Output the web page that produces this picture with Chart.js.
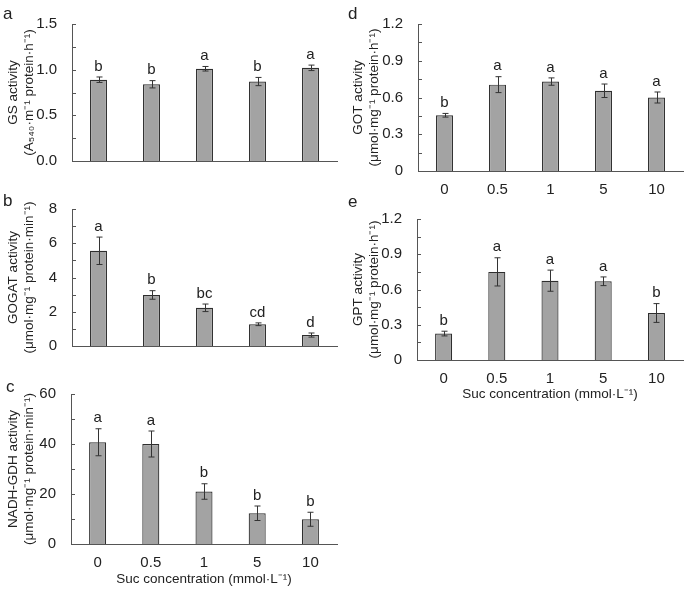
<!DOCTYPE html>
<html lang="en">
<head>
  <meta charset="UTF-8" />
  <title>Suc concentration - enzyme activities</title>
  <script src="https://cdn.jsdelivr.net/npm/chart.js"></script>
  <style>
    body {
      margin: 0;
      background: #ffffff;
      font-family: 'Liberation Sans', Arial, sans-serif;
    }
    .wrap {
      position: relative;
      width: 685px;
      height: 590px;
    }
    .panel {
      position: absolute;
    }
    .tag {
      position: absolute;
      font-size: 17px;
      color: #222;
      line-height: 1;
    }
  </style>
</head>
<body>
  <div class="wrap">
    <div class="panel" style="left:0;top:0;width:345px;height:185px"><canvas id="cA"></canvas></div>
    <div class="panel" style="left:0;top:185px;width:345px;height:185px"><canvas id="cB"></canvas></div>
    <div class="panel" style="left:0;top:370px;width:345px;height:220px"><canvas id="cC"></canvas></div>
    <div class="panel" style="left:345px;top:195px;width:340px;height:210px"><canvas id="cE"></canvas></div>
    <div class="panel" style="left:345px;top:0;width:340px;height:200px"><canvas id="cD"></canvas></div>
    <div class="tag" style="left:3px;top:5px">a</div>
    <div class="tag" style="left:3px;top:192px">b</div>
    <div class="tag" style="left:6px;top:378px">c</div>
    <div class="tag" style="left:348px;top:5px">d</div>
    <div class="tag" style="left:348px;top:193px">e</div>
  </div>

  <script>
    // Suc concentration (mmol/L)
    const sucLevels = ['0', '0.5', '1', '5', '10'];

    // a - GS
    const gsVals = [0.89, 0.84, 1.01, 0.87, 1.02];
    const gsErr  = [0.03, 0.04, 0.025, 0.045, 0.03];
    const gsSig  = ['b', 'b', 'a', 'b', 'a'];

    // b - GOGAT
    const gogatVals = [5.56, 2.98, 2.23, 1.27, 0.64];
    const gogatErr  = [0.8, 0.25, 0.22, 0.08, 0.12];
    const gogatSig  = ['a', 'b', 'bc', 'cd', 'd'];

    // c - NADH-GDH
    const gdhVals = [40.7, 40.0, 21.0, 12.3, 9.9];
    const gdhErr  = [5.4, 5.2, 3.1, 2.9, 2.8];
    const gdhSig  = ['a', 'a', 'b', 'b', 'b'];

    // d - GOT
    const gotVals = [0.455, 0.705, 0.73, 0.655, 0.60];
    const gotErr  = [0.015, 0.065, 0.03, 0.055, 0.045];
    const gotSig  = ['b', 'a', 'a', 'a', 'a'];

    // e - GPT
    const gptVals = [0.225, 0.75, 0.675, 0.67, 0.40];
    const gptErr  = [0.02, 0.12, 0.09, 0.037, 0.08];
    const gptSig  = ['b', 'a', 'a', 'a', 'b'];

    const FONT = "'Liberation Sans', Arial, sans-serif";
    const INK = '#222';
    const AXIS = '#555';

    // error bars, letters and inward y tick marks
    const extras = {
      id: 'extras',
      afterDatasetsDraw(chart) {
        const { ctx } = chart;
        const o = chart.options.plugins.extras;
        const ys = chart.scales.y;
        const vals = chart.data.datasets[0].data;
        ctx.save();
        // inward tick marks
        ctx.strokeStyle = AXIS;
        ctx.lineWidth = 1;
        ys.ticks.forEach(t => {
          const y = Math.round(ys.getPixelForValue(t.value)) + 0.5;
          ctx.beginPath();
          ctx.moveTo(ys.right, y);
          ctx.lineTo(ys.right + 4, y);
          ctx.stroke();
        });
        // error bars
        ctx.strokeStyle = '#333';
        ctx.fillStyle = INK;
        ctx.font = '15px ' + FONT;
        ctx.textAlign = 'center';
        ctx.textBaseline = 'bottom';
        chart.getDatasetMeta(0).data.forEach((bar, i) => {
          const x = Math.round(bar.x) + 0.5;
          const yt = ys.getPixelForValue(vals[i] + o.errors[i]);
          const yb = ys.getPixelForValue(vals[i] - o.errors[i]);
          ctx.beginPath();
          ctx.moveTo(x, yt); ctx.lineTo(x, yb);
          ctx.moveTo(x - 3, yt); ctx.lineTo(x + 3, yt);
          ctx.moveTo(x - 3, yb); ctx.lineTo(x + 3, yb);
          ctx.stroke();
          ctx.fillText(o.letters[i], bar.x, yt - 3);
        });
        ctx.restore();
      }
    };

    function makeChart(id, cfg) {
      return new Chart(document.getElementById(id), {
        type: 'bar',
        data: {
          labels: sucLevels,
          datasets: [{
            data: cfg.values,
            backgroundColor: '#a3a3a3',
            borderColor: '#2e2e2e',
            borderWidth: { top: 1.2, left: 1.2, right: 1.2, bottom: 0 },
            borderSkipped: false,
            barPercentage: 0.32,
            categoryPercentage: 1
          }]
        },
        options: {
          responsive: true,
          maintainAspectRatio: false,
          animation: false,
          layout: { padding: { top: cfg.padTop, right: cfg.padRight, left: 0, bottom: 0 } },
          plugins: {
            legend: { display: false },
            tooltip: { enabled: false },
            extras: { errors: cfg.errors, letters: cfg.letters }
          },
          scales: {
            x: {
              afterFit: s => { s.height = cfg.xHeight; },
              grid: { display: false },
              border: { display: true, color: AXIS, width: 1 },
              ticks: {
                display: cfg.xLabels,
                color: INK,
                padding: 2,
                font: { family: FONT, size: 15 }
              },
              title: {
                display: cfg.xTitle,
                text: 'Suc concentration (mmol·L⁻¹)',
                color: INK,
                padding: { top: 0, bottom: 3 },
                font: { family: FONT, size: 13.5, lineHeight: 1.2 }
              }
            },
            y: {
              min: 0,
              max: cfg.max,
              afterFit: s => { s.width = cfg.yWidth; },
              grid: { display: false, drawTicks: false },
              border: { display: true, color: AXIS, width: 1 },
              ticks: {
                stepSize: cfg.step,
                autoSkip: false,
                padding: 15,
                color: INK,
                font: { family: FONT, size: 15 },
                callback: (v, i) => i % 2 === 0 ? cfg.fmt(v) : ''
              },
              title: {
                display: true,
                text: cfg.yTitle,
                color: INK,
                padding: { top: 5, bottom: 0 },
                font: { family: FONT, size: 13.5, lineHeight: 1.2 }
              }
            }
          }
        },
        plugins: [extras]
      });
    }

    const f1 = v => v.toFixed(1);
    const f0 = v => String(Math.round(v));
    const fTrim = v => String(Number(v.toFixed(2)));

    makeChart('cA', {
      values: gsVals, errors: gsErr, letters: gsSig,
      max: 1.5, step: 0.25, fmt: f1,
      yTitle: ['GS activity', '(A₅₄₀·m⁻¹ protein·h⁻¹)'],
      padTop: 7, padRight: 8, yWidth: 72, xHeight: 13, xLabels: false, xTitle: false
    });
    makeChart('cB', {
      values: gogatVals, errors: gogatErr, letters: gogatSig,
      max: 8, step: 1, fmt: f0,
      yTitle: ['GOGAT activity', '(μmol·mg⁻¹ protein·min⁻¹)'],
      padTop: 11, padRight: 8, yWidth: 72, xHeight: 11, xLabels: false, xTitle: false
    });
    makeChart('cC', {
      values: gdhVals, errors: gdhErr, letters: gdhSig,
      max: 60, step: 10, fmt: f0,
      yTitle: ['NADH-GDH activity', '(μmol·mg⁻¹ protein·min⁻¹)'],
      padTop: 13, padRight: 8, yWidth: 71, xHeight: 46, xLabels: true, xTitle: true
    });
    makeChart('cD', {
      values: gotVals, errors: gotErr, letters: gotSig,
      max: 1.2, step: 0.15, fmt: fTrim,
      yTitle: ['GOT activity', '(μmol·mg⁻¹ protein·h⁻¹)'],
      padTop: 8, padRight: 2, yWidth: 73, xHeight: 29, xLabels: true, xTitle: false
    });
    makeChart('cE', {
      values: gptVals, errors: gptErr, letters: gptSig,
      max: 1.2, step: 0.15, fmt: fTrim,
      yTitle: ['GPT activity', '(μmol·mg⁻¹ protein·h⁻¹)'],
      padTop: 12, padRight: 2, yWidth: 72, xHeight: 45, xLabels: true, xTitle: true
    });
  </script>
</body>
</html>
